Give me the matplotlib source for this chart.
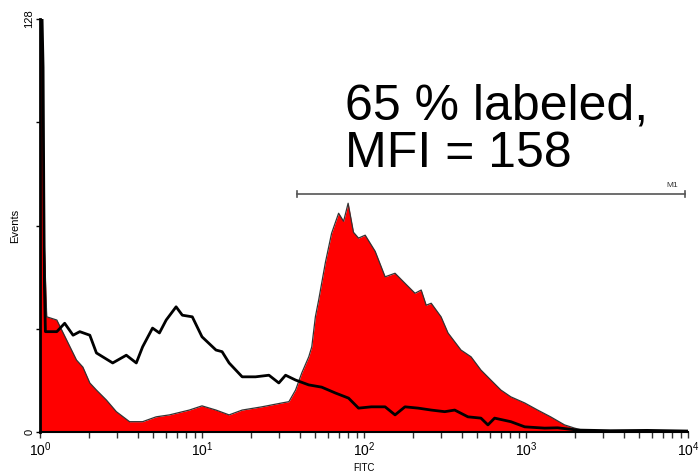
import numpy as np
import matplotlib.pyplot as plt
from matplotlib.ticker import FixedLocator, LogLocator, NullFormatter

plt.rcParams['font.family'] = ['Liberation Sans', 'DejaVu Sans']
plt.rcParams['mathtext.fontset'] = 'custom'
plt.rcParams['mathtext.rm'] = 'Liberation Sans'
plt.rcParams['mathtext.it'] = 'Liberation Sans'

# labeled sample (filled red)
fitc_lab = [1.0, 1.03, 1.06, 1.10, 1.27, 1.39, 1.68, 1.84, 2.03, 2.23, 2.57, 2.96,
            3.57, 4.30, 5.21, 6.29, 8.35, 10.0, 12.2, 14.7, 17.7, 23.4, 31.1, 34.4,
            37.8, 41.3, 45.6, 47.6, 50.1, 52.5, 57.8, 63.1, 69.7, 74.8, 79.8, 86.1,
            92.5, 101.7, 117.2, 135, 155.5, 179, 206.5, 225.5, 242, 260, 299, 330,
            397, 458, 527, 607, 700, 806, 982, 1180, 1419, 1730, 1994, 2296, 2761,
            10000]
events_lab = [128, 128, 60, 35.7, 34.7, 30.7, 22.3, 20.1, 15.2, 13.0, 9.9, 6.3,
              3.2, 3.2, 4.7, 5.3, 6.8, 8.1, 6.8, 5.3, 6.8, 7.8, 9.0, 9.4,
              13.0, 18.3, 23.3, 26.4, 35.7, 40.9, 52.6, 61.6, 67.8, 65.3, 70.9, 61.9,
              60.1, 61.0, 56.0, 48.1, 49.2, 46.1, 43.0, 44.0, 39.3, 39.9, 35.7, 30.7,
              25.4, 23.3, 19.2, 16.1, 13.0, 10.9, 9.0, 6.8, 4.7, 2.2, 1.2, 0.4, 0.1,
              0.0]

# unlabeled control (black outline)
fitc_ctl = [1.0, 1.03, 1.045, 1.055, 1.065, 1.08, 1.12, 1.27, 1.42, 1.60, 1.76, 2.03,
            2.23, 2.81, 3.41, 3.93, 4.30, 4.95, 5.46, 6.01, 6.92, 7.56, 8.71, 10.0,
            12.2, 13.3, 14.7, 17.7, 21.4, 25.9, 29.8, 32.8, 37.8, 45.6, 54.8, 66.5,
            80.3, 92.5, 111, 135, 155.5, 179, 216, 260, 315, 363, 438, 527, 582, 640,
            806, 982, 1303, 1567, 2080, 3318, 5600, 10000]
events_ctl = [128, 128, 113, 75, 45, 31.1, 31.1, 31.1, 33.7, 30.0, 31.1, 30.0,
              24.5, 21.4, 23.8, 21.4, 26.4, 32.2, 30.7, 34.7, 38.8, 36.2, 35.7, 29.5,
              25.4, 24.9, 21.4, 17.1, 17.1, 17.6, 15.2, 17.6, 16.1, 14.6, 13.9, 12.1,
              10.5, 7.4, 7.8, 7.8, 5.3, 7.8, 7.4, 6.8, 6.3, 6.8, 4.7, 4.3, 2.2, 4.3,
              3.2, 1.6, 1.2, 1.3, 0.6, 0.4, 0.5, 0.3]

gate_lo, gate_hi, gate_y = 38.5, 9600, 73.7
y_ticks = [0, 32, 64, 96, 128]
x_decades = [1, 10, 100, 1000, 10000]
x_labels = ['$10^{0}$', '$10^{1}$', '$10^{2}$', '$10^{3}$', '$10^{4}$']

fig = plt.figure(figsize=(6.99, 4.74), dpi=100)
ax = fig.add_axes([40 / 699, 1 - 432 / 474, 648 / 699, 413 / 474])

ax.fill_between(fitc_lab, events_lab, 0, color='#ff0000', lw=0, zorder=1)
ax.plot(fitc_lab, events_lab, color='#333333', lw=0.9, zorder=2)
ax.plot(fitc_ctl, events_ctl, color='black', lw=2.0, zorder=3)

# M1 marker bar
ax.plot([gate_lo, gate_hi], [gate_y, gate_y], color='#555555', lw=1.2, zorder=4)
for gx in (gate_lo, gate_hi):
    ax.plot([gx, gx], [gate_y - 1.0, gate_y + 1.0], color='#555555', lw=1.2, zorder=4)
ax.text(8000, gate_y + 1.6, 'M1', fontsize=6, color='#333333', ha='center', va='bottom')

ax.set_xscale('log')
ax.set_xlim(1, 10000)
ax.set_ylim(0, 128)

ax.xaxis.set_major_locator(FixedLocator(x_decades))
ax.set_xticklabels(x_labels, fontsize=10)
ax.xaxis.set_minor_locator(LogLocator(base=10, subs=np.arange(2, 10)))
ax.xaxis.set_minor_formatter(NullFormatter())
ax.tick_params(axis='x', which='both', direction='out', length=4, width=1,
               pad=2, color='#333333')

ax.set_yticks(y_ticks)
ax.set_yticklabels(['0', '', '', '', '128'], fontsize=8, rotation=90, va='center')
ax.tick_params(axis='y', direction='out', length=3, width=1, pad=1)

ax.set_xlabel('FITC', fontsize=7, labelpad=3)
ax.set_ylabel('Events', fontsize=8, labelpad=3)

for side in ('top', 'right'):
    ax.spines[side].set_visible(False)
ax.spines['left'].set_linewidth(2.0)
ax.spines['bottom'].set_linewidth(1.5)

fig.text(345 / 699, 1 - 119.5 / 474, '65 % labeled,', fontsize=36,
         ha='left', va='baseline')
fig.text(345 / 699, 1 - 167 / 474, 'MFI = 158', fontsize=36,
         ha='left', va='baseline')

fig.savefig('out.png', dpi=100)
